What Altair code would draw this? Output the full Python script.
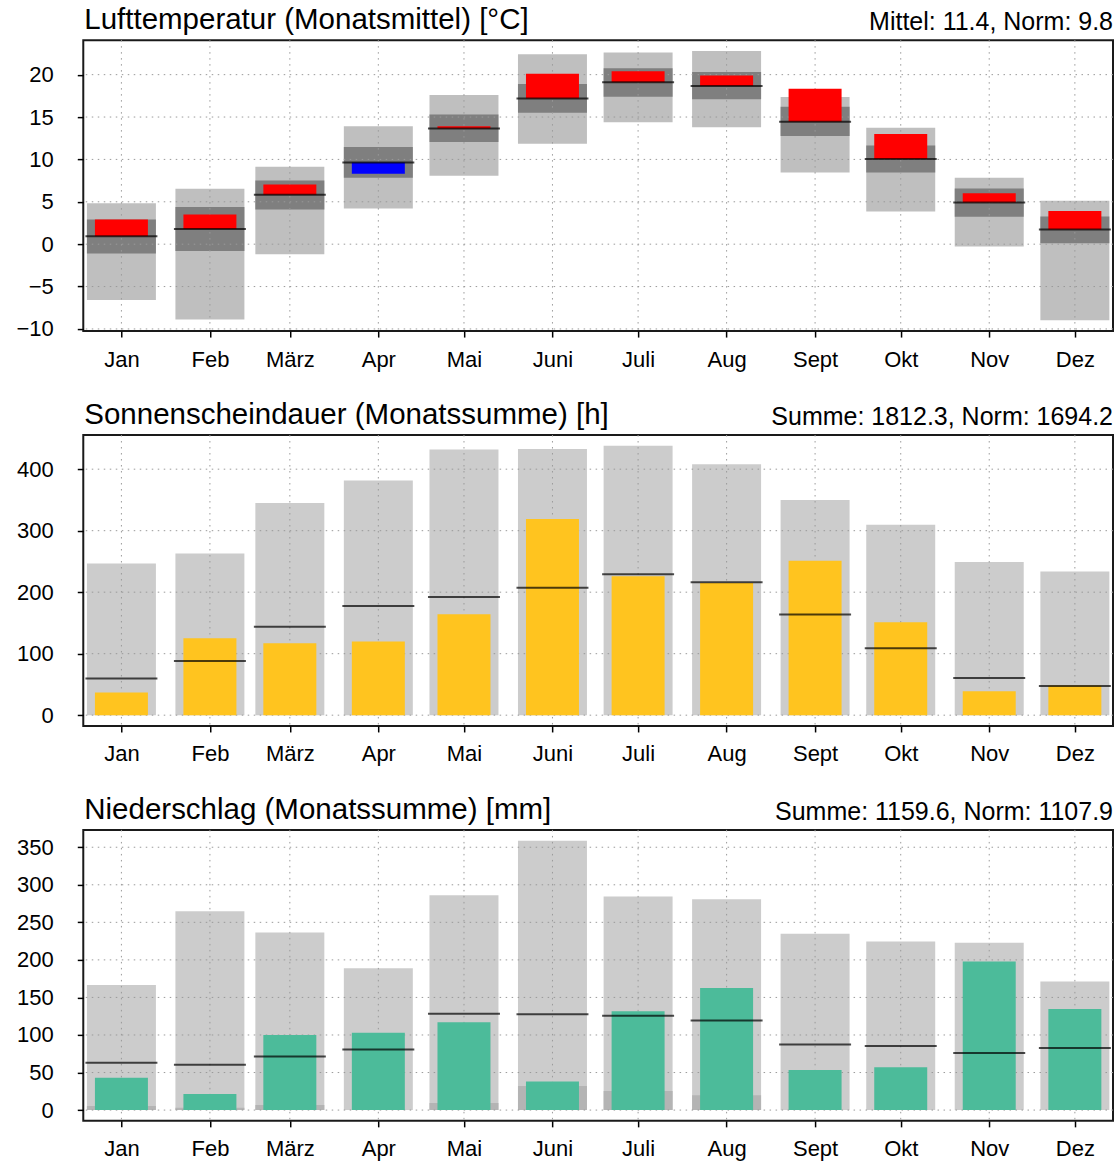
import altair as alt
import pandas as pd

# Month names and lengths (positions along the x axis follow the calendar)
months = ["Jan", "Feb", "März", "Apr", "Mai", "Juni", "Juli", "Aug", "Sept", "Okt", "Nov", "Dez"]
month_days = [31, 28, 31, 30, 31, 30, 31, 31, 30, 31, 30, 31]

# Air temperature (°C): monthly mean, normal, extremes and central band
temp_value = [2.9, 3.5, 7.05, 8.3, 13.9, 20.1, 20.4, 19.9, 18.35, 13.0, 6.0, 3.9]
temp_norm = [0.94, 1.8, 5.83, 9.65, 13.66, 17.2, 19.1, 18.66, 14.45, 10.04, 4.92, 1.73]
temp_min = [-6.6, -8.9, -1.18, 4.2, 8.07, 11.85, 14.37, 13.78, 8.46, 3.86, -0.28, -8.98]
temp_max = [4.84, 6.54, 9.13, 13.9, 17.6, 22.4, 22.6, 22.8, 17.36, 13.74, 7.83, 5.12]
temp_band_lo = [-1.1, -0.8, 4.1, 7.83, 12.05, 15.5, 17.4, 17.1, 12.76, 8.46, 3.23, 0.12]
temp_band_hi = [2.9, 4.4, 7.5, 11.46, 15.3, 18.9, 20.75, 20.3, 16.2, 11.65, 6.57, 3.27]
temp_ticks = [-10, -5, 0, 5, 10, 15, 20]

# Sunshine duration (h): monthly sum, normal, maximum
sun_value = [37, 125, 117, 120, 164, 319, 226, 215, 251, 151, 39, 48.3]
sun_norm = [59.5, 88.3, 143.8, 177.5, 192, 207.3, 229, 216, 163.8, 109, 60.5, 47.5]
sun_max = [246.7, 263, 345, 381.5, 432, 433, 438, 408, 350, 309.8, 249, 233.7]
sun_ticks = [0, 100, 200, 300, 400]

# Precipitation (mm): monthly sum, normal, maximum, minimum
rain_value = [43, 21.5, 100, 103, 117, 38, 131.5, 162.5, 53.5, 57, 198, 134.6]
rain_norm = [63, 60.5, 71.5, 80.8, 128.3, 127.5, 125.6, 119.4, 87.4, 85.2, 75.9, 82.8]
rain_max = [166.7, 264.9, 236.4, 188.9, 286.2, 358.7, 284.4, 280.9, 234.7, 224.4, 222.7, 171.1]
rain_min = [5.3, 3, 6.7, 0, 9.3, 32, 25.3, 19.6, 0, 0, 0, 0]
rain_ticks = [0, 50, 100, 150, 200, 250, 300, 350]

FONT = "Liberation Sans"
W, H = 1030, 291
GRID = "#9a9a9a"

# day-of-year of each month's tick (15th of the month)
starts = [sum(month_days[:i]) for i in range(12)]
mid = [s + 15 for s in starts]
span = mid[-1] - mid[0]
x_domain = [mid[0] - 0.04 * span, mid[-1] + 0.04 * span]

label_expr = (
    "[" + ",".join(f"'{m}'" for m in months) + "]"
    + "[indexof([" + ",".join(str(d) for d in mid) + "], datum.value)]"
)

x_axis = alt.Axis(values=mid, labelExpr=label_expr, title=None, grid=False, domain=False,
                  tickSize=6, labelPadding=12, labelFontSize=22, labelFont=FONT)
x_scale = alt.Scale(domain=x_domain, nice=False, zero=False, padding=0)


def padded(lo, hi):
    pad = 0.04 * (hi - lo)
    return [lo - pad, hi + pad]


def xenc():
    return alt.X("day:Q", scale=x_scale, axis=x_axis)


def yenc(field, scale, axis):
    return alt.Y(f"{field}:Q", scale=scale, axis=axis)


def grid_layers(ticks, yscale, yaxis):
    hdf = pd.DataFrame({"v": ticks})
    vdf = pd.DataFrame({"day": mid})
    h = alt.Chart(hdf).mark_rule(color=GRID, strokeDash=[1.5, 4.5], strokeWidth=1).encode(
        y=yenc("v", yscale, yaxis))
    v = alt.Chart(vdf).mark_rule(color=GRID, strokeDash=[1.5, 4.5], strokeWidth=1).encode(
        x=xenc())
    return [h, v]


def header(title, summary):
    t = alt.Chart(pd.DataFrame({"t": [title]})).mark_text(
        align="left", baseline="alphabetic", fontSize=29.5, font=FONT, color="#000"
    ).encode(text="t:N", x=alt.value(1), y=alt.value(-11))
    s = alt.Chart(pd.DataFrame({"t": [summary]})).mark_text(
        align="right", baseline="alphabetic", fontSize=25, font=FONT, color="#000"
    ).encode(text="t:N", x=alt.value(W), y=alt.value(-10))
    return [t, s]


def y_axis(ticks):
    return alt.Axis(values=ticks, title=None, grid=False, domain=False, tickSize=6,
                    labelPadding=24, labelFontSize=22, labelFont=FONT)


# ---- temperature panel ----
tdf = pd.DataFrame({
    "day": mid, "month": months, "value": temp_value, "norm": temp_norm,
    "tmin": temp_min, "tmax": temp_max, "blo": temp_band_lo, "bhi": temp_band_hi,
})
t_scale = alt.Scale(domain=padded(min(temp_min), max(temp_max)), nice=False, zero=False, padding=0)
t_axis = y_axis(temp_ticks)
t_base = alt.Chart(tdf)
temp_chart = alt.layer(
    t_base.mark_bar(size=69, color="#bfbfbf").encode(
        x=xenc(), y=yenc("tmin", t_scale, t_axis), y2="tmax:Q"),
    t_base.mark_bar(size=69, color="#7f7f7f").encode(
        x=xenc(), y=yenc("blo", t_scale, t_axis), y2="bhi:Q"),
    *grid_layers(temp_ticks, t_scale, t_axis),
    t_base.mark_bar(size=53).encode(
        x=xenc(), y=yenc("norm", t_scale, t_axis), y2="value:Q",
        color=alt.condition("datum.value >= datum.norm", alt.value("#ff0000"), alt.value("#0000ff"))),
    t_base.mark_tick(orient="horizontal", size=72, thickness=2, color="#000").encode(
        x=xenc(), y=yenc("norm", t_scale, t_axis)),
    *header("Lufttemperatur (Monatsmittel) [°C]",
            f"Mittel: {sum(temp_value) / 12:.1f}, Norm: {sum(temp_norm) / 12:.1f}"),
).properties(width=W, height=H)

# ---- sunshine panel ----
sdf = pd.DataFrame({"day": mid, "month": months, "value": sun_value, "norm": sun_norm,
                    "smax": sun_max, "zero": [0] * 12})
s_scale = alt.Scale(domain=padded(0, max(sun_max)), nice=False, zero=False, padding=0)
s_axis = y_axis(sun_ticks)
s_base = alt.Chart(sdf)
sun_chart = alt.layer(
    s_base.mark_bar(size=69, color="#cccccc").encode(
        x=xenc(), y=yenc("zero", s_scale, s_axis), y2="smax:Q"),
    *grid_layers(sun_ticks, s_scale, s_axis),
    s_base.mark_bar(size=53, color="#ffc41f").encode(
        x=xenc(), y=yenc("zero", s_scale, s_axis), y2="value:Q"),
    s_base.mark_tick(orient="horizontal", size=72, thickness=2, color="#000").encode(
        x=xenc(), y=yenc("norm", s_scale, s_axis)),
    *header("Sonnenscheindauer (Monatssumme) [h]",
            f"Summe: {sum(sun_value):.1f}, Norm: {sum(sun_norm):.1f}"),
).properties(width=W, height=H)

# ---- precipitation panel ----
rdf = pd.DataFrame({"day": mid, "month": months, "value": rain_value, "norm": rain_norm,
                    "rmax": rain_max, "rmin": rain_min, "zero": [0] * 12})
r_scale = alt.Scale(domain=padded(0, max(rain_max)), nice=False, zero=False, padding=0)
r_axis = y_axis(rain_ticks)
r_base = alt.Chart(rdf)
rain_chart = alt.layer(
    r_base.mark_bar(size=69, color="#cccccc").encode(
        x=xenc(), y=yenc("zero", r_scale, r_axis), y2="rmax:Q"),
    r_base.mark_bar(size=69, color="#b4b4b4").encode(
        x=xenc(), y=yenc("zero", r_scale, r_axis), y2="rmin:Q"),
    *grid_layers(rain_ticks, r_scale, r_axis),
    r_base.mark_bar(size=53, color="#4cbb9a").encode(
        x=xenc(), y=yenc("zero", r_scale, r_axis), y2="value:Q"),
    r_base.mark_tick(orient="horizontal", size=72, thickness=2, color="#000").encode(
        x=xenc(), y=yenc("norm", r_scale, r_axis)),
    *header("Niederschlag (Monatssumme) [mm]",
            f"Summe: {sum(rain_value):.1f}, Norm: {sum(rain_norm):.1f}"),
).properties(width=W, height=H)

chart = alt.vconcat(temp_chart, sun_chart, rain_chart, spacing=28).properties(
    padding={"left": 14.3, "top": 4, "right": 5, "bottom": 2},
    background="#ffffff",
).configure_view(
    stroke="#1a1a1a", strokeWidth=2
).configure_axis(
    labelColor="#000", tickColor="#000", tickWidth=1.5
)

chart.save("out.html", embed_options={"renderer": "svg", "actions": False})
